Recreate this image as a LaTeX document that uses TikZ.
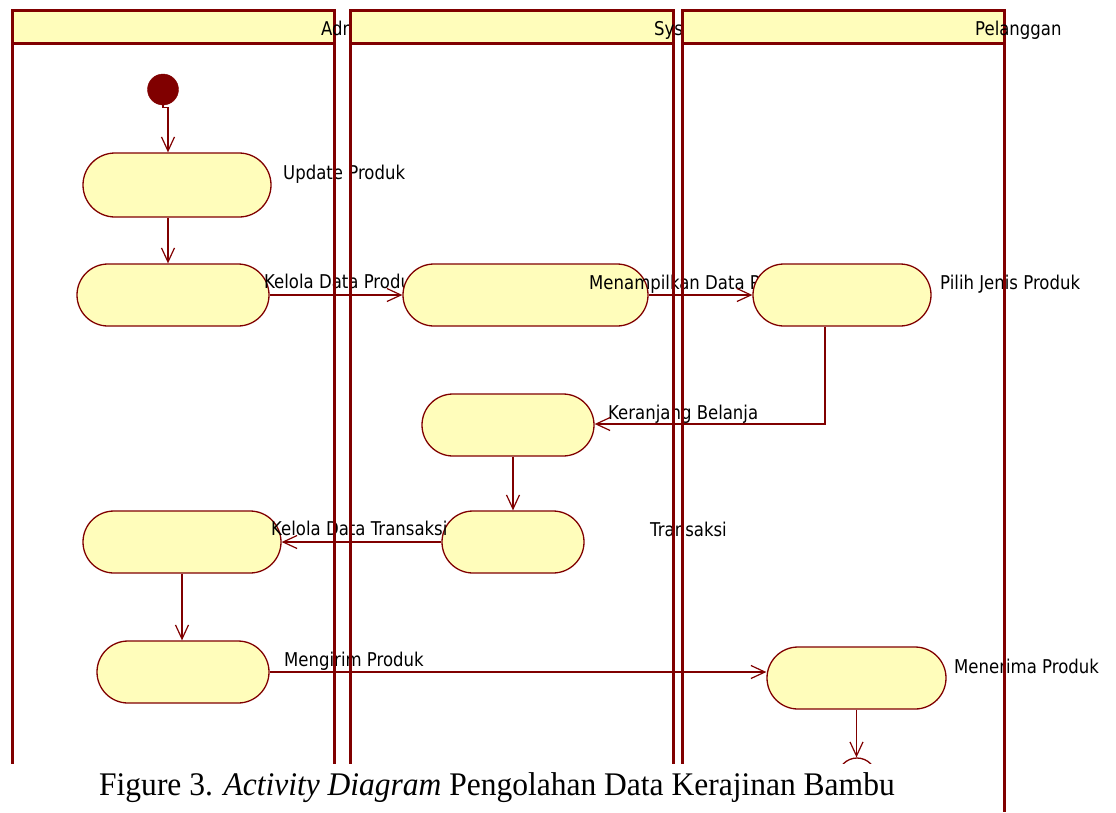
\documentclass[tikz,border=0pt]{standalone}
\usepackage{fontspec}
\newfontfamily\lblfont[FakeStretch=0.87]{DejaVu Sans}
\newfontfamily\capfont[FakeStretch=0.955]{Liberation Serif}
\usetikzlibrary{arrows.meta}
\definecolor{umlred}{RGB}{128,0,0}
\definecolor{umlfill}{RGB}{255,253,187}
\begin{document}
\begin{tikzpicture}[x=1pt,y=-1pt,
  act/.style={draw=umlred, fill=umlfill, line width=1.3pt, rounded corners=31pt, inner sep=0pt, minimum height=62pt},
  lbl/.style={anchor=base west, inner sep=0pt, font=\lblfont\fontsize{19}{22}\selectfont, text=black},
  flow/.style={draw=umlred, line width=1.2pt, -{Straight Barb[length=14pt,width=13pt]}},
  lanebox/.style={draw=umlred, line width=3pt, fill=umlfill},
  laneline/.style={draw=umlred, line width=3pt}]
\useasboundingbox (0,0) rectangle (1116,812);
% lane headers
\path[lanebox] (12,10) rectangle (334,43);
\node[lbl] (h1) at (321,35) {Admin};
\path[lanebox] (350,10) rectangle (673,43);
\node[lbl] (h2) at (654,35) {System};
\path[lanebox] (682,10) rectangle (1004,43);
\node[lbl] (h3) at (975,35) {Pelanggan};
% nodes and labels
\node[circle, fill=umlred, draw=umlred, minimum size=31pt, inner sep=0pt] (start) at (163,89.5) {};
\node[act, minimum width=188pt, minimum height=64pt, rounded corners=32pt] (upd) at (177,185) {};
\node[lbl] (lupd) at (283,179) {Update Produk};
\node[act, minimum width=192pt] (kdp) at (173,295) {};
\node[lbl] (lkdp) at (264,288) {Kelola Data Produk};
\node[act, minimum width=245pt] (tmp) at (525.5,295) {};
\node[lbl] (ltmp) at (589,289) {Menampilkan Data Produk};
\node[act, minimum width=178pt] (pil) at (842,295) {};
\node[lbl] (lpil) at (940,289) {Pilih Jenis Produk};
\node[act, minimum width=172pt] (ker) at (508,425) {};
\node[lbl] (lker) at (608,419) {Keranjang Belanja};
\node[act, minimum width=142pt] (trs) at (513,542) {};
\node[lbl] (ltrs) at (650,536) {Transaksi};
\node[act, minimum width=198pt] (kdt) at (182,542) {};
\node[lbl] (lkdt) at (271,535) {Kelola Data Transaksi};
\node[act, minimum width=172pt] (krm) at (183,672) {};
\node[lbl] (lkrm) at (284,666) {Mengirim Produk};
\node[act, minimum width=179pt] (trm) at (856.5,678) {};
\node[lbl] (ltrm) at (954,673) {Menerima Produk};
\node[circle, draw=umlred, line width=1.3pt, fill=white, minimum size=38pt, inner sep=0pt] (end) at (857,777) {};
% flows
\draw[flow] (start.south) -- ++(0,2) -| ([xshift=-9pt]upd.north);
\draw[flow] ([xshift=-9pt]upd.south) -- ([xshift=-9pt]upd.south |- kdp.north);
\draw[flow] (kdp.east) -- (tmp.west);
\draw[flow] (tmp.east) -- (pil.west);
\draw[flow] ([xshift=-17pt]pil.south) |- ([yshift=1pt]ker.east);
\draw[flow] (trs.north |- ker.south) -- (trs.north);
\draw[flow] (trs.west) -- (kdt.east);
\draw[flow] (kdt.south) -- (kdt.south |- krm.north);
\draw[flow] (krm.east) -- (krm.east -| trm.west);
\draw[flow] (trm.south) -- (trm.south |- end.north);
% lane lines
\draw[laneline] (12,43) -- (12,764);
\draw[laneline] (334,43) -- (334,764);
\draw[laneline] (350,43) -- (350,764);
\draw[laneline] (673,43) -- (673,764);
\draw[laneline] (682,43) -- (682,764);
% caption
\fill[white] (0,764) rectangle (998,812);
\draw[laneline] (1004,43) -- (1004,812);
\node[anchor=base west, inner sep=0pt, font=\capfont\fontsize{33}{36}\selectfont] (cap) at (99,795) {Figure 3. \textit{Activity Diagram} Pengolahan Data Kerajinan Bambu};
\end{tikzpicture}
\end{document}
